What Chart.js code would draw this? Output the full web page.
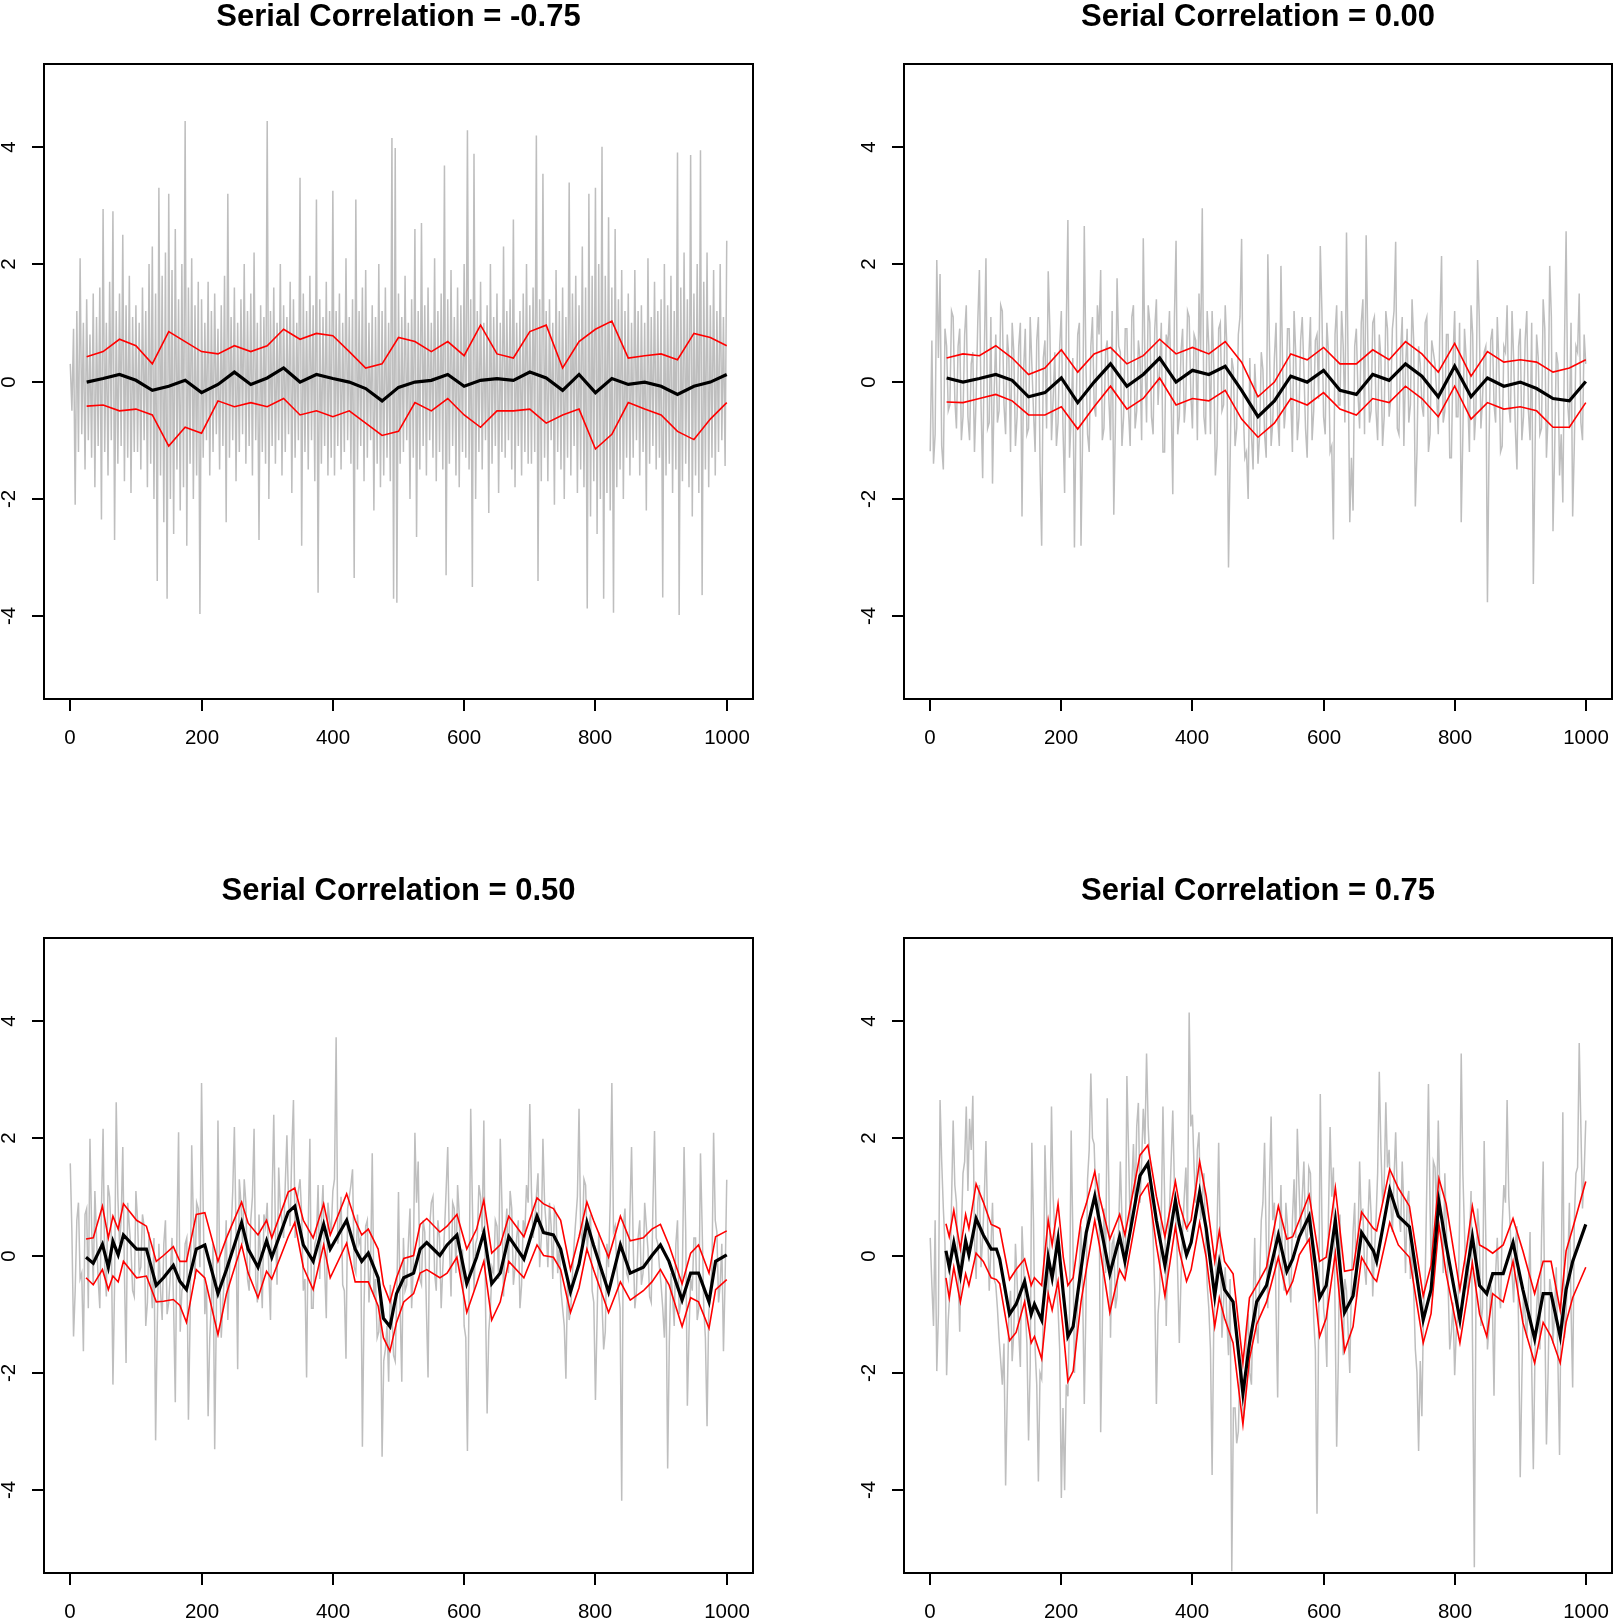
<!DOCTYPE html>
<html>
<head>
<meta charset="utf-8">
<script src="https://cdn.jsdelivr.net/npm/chart.js@4.4.1/dist/chart.umd.min.js"></script>
<style>
  body { margin: 0; background: #fff; }
  #page { position: relative; width: 1615px; height: 1622px; }
  canvas { position: absolute; }
</style>
</head>
<body>
<div id="page">
  <canvas id="c1" width="807" height="811" style="left:0;top:0"></canvas>
  <canvas id="c2" width="808" height="811" style="left:807px;top:0"></canvas>
  <canvas id="c3" width="807" height="811" style="left:0;top:811px"></canvas>
  <canvas id="c4" width="808" height="811" style="left:807px;top:811px"></canvas>
</div>
<script>
// ticks and titles
const xTicks = [0, 200, 400, 600, 800, 1000];
const yTicks = [-4, -2, 0, 2, 4];
const titles = ['Serial Correlation = -0.75', 'Serial Correlation = 0.00',
                'Serial Correlation = 0.50', 'Serial Correlation = 0.75'];

// raw series (gray). panel 1 read every 2.5 steps
const grayStep1 = 2.5;
const gray1 = [
  0.3,-0.5,0.9,-2.1,1.2,-1.2,2.1,-0.9,1.0,-1.5,1.4,-1.0,0.8,-1.3,1.5,-1.8,1.1,-1.1,1.6,-2.35,2.94,-1.2,1.0,-1.6,1.7,-1.0,2.9,-2.7,1.2,-1.4,1.5,-1.1,2.5,-1.7,1.3,-1.3,1.8,-1.9,1.1,-1.2,
  1.3,-1.2,1.0,-1.5,1.6,-1.0,1.2,-1.8,2.0,-1.4,2.3,-2.0,1.5,-3.4,3.3,-1.6,1.8,-2.4,2.2,-3.7,3.2,-2.0,1.9,-2.6,2.6,-1.5,1.4,-2.2,2.0,-1.8,4.44,-2.8,1.6,-1.4,2.1,-2.0,1.3,-1.6,1.7,-3.96,
  1.4,-1.3,1.0,-1.0,1.7,-1.6,1.2,-1.2,1.5,-0.9,0.9,-1.5,1.3,-1.1,1.8,-2.4,3.2,-1.3,1.1,-1.0,1.6,-1.7,1.0,-1.2,1.4,-0.9,2.0,-1.4,1.2,-1.1,1.5,-1.6,2.2,-1.0,1.0,-2.7,1.3,-1.2,1.1,-1.4,
  4.44,-2.0,1.2,-1.1,1.6,-1.4,1.0,-1.0,2.0,-1.6,1.3,-1.2,1.1,-0.9,1.7,-1.9,1.4,-1.3,1.0,-1.0,3.47,-2.8,1.5,-1.2,1.2,-1.5,1.8,-1.0,1.3,-1.7,3.1,-3.6,1.4,-1.4,1.1,-1.1,1.7,-1.6,1.2,-1.3,
  3.25,-1.6,1.2,-1.1,1.5,-1.5,1.0,-1.2,2.1,-1.0,1.1,-1.4,1.4,-3.35,3.1,-1.5,1.2,-1.1,1.6,-1.7,1.9,-1.3,1.0,-1.0,1.3,-2.2,1.1,-1.4,2.0,-1.8,1.2,-1.6,1.6,-1.3,1.0,-1.7,4.15,-3.7,3.98,-3.77,
  1.5,-1.4,1.1,-1.2,1.8,-1.0,1.0,-2.0,1.4,-1.3,2.6,-2.65,1.2,-1.5,2.7,-1.1,1.3,-1.6,1.6,-1.0,1.0,-1.3,2.1,-1.7,1.2,-1.2,1.5,-1.5,3.68,-3.3,1.4,-1.4,1.9,-1.1,1.1,-1.6,1.6,-1.8,1.3,-1.2,
  2.0,-1.3,4.28,-1.5,1.4,-3.5,3.88,-2.0,1.2,-1.2,1.7,-1.5,1.0,-1.0,1.3,-2.24,2.0,-1.4,1.1,-1.1,1.5,-1.9,1.0,-1.2,2.3,-1.3,1.2,-1.0,1.4,-1.5,2.76,-1.8,1.0,-1.1,1.2,-1.6,1.5,-1.2,2.0,-1.4,
  1.3,-1.4,1.6,-1.2,4.19,-3.4,1.4,-1.7,3.54,-1.3,1.2,-1.7,1.4,-1.0,1.0,-2.1,1.9,-1.2,1.2,-1.5,1.6,-2.0,1.1,-1.3,3.39,-1.6,1.5,-1.1,1.8,-1.9,1.3,-1.5,2.3,-1.8,1.6,-3.87,3.2,-2.3,1.8,-1.7,
  3.3,-2.6,2.0,-2.0,4.0,-3.7,1.8,-1.9,2.8,-2.2,1.6,-3.94,2.6,-1.8,1.4,-1.5,1.9,-2.0,1.2,-1.3,1.5,-1.6,1.0,-1.3,1.9,-1.0,1.2,-1.6,1.3,-1.2,1.0,-2.2,2.1,-1.4,1.1,-1.1,1.7,-1.5,1.2,-1.3,
  1.4,-3.68,2.0,-1.6,1.3,-1.4,1.8,-1.9,1.2,-1.5,3.9,-3.98,1.6,-1.7,2.2,-1.4,1.4,-1.8,3.86,-2.3,1.5,-1.6,2.0,-1.9,3.94,-3.64,1.7,-1.5,2.2,-1.8,1.3,-1.3,1.9,-1.6,1.2,-1.2,2.0,-1.0,1.1,-1.44,
  2.4
];

// panels 2-4: values at x = 0,5,...,1000 and in-between values at x = 2.5,7.5,...,997.5
const grayStep = 5;
const gray2 = [
  -1.19,-1.4,2.07,1.83,-1.5,0.6,-0.4,1.1,-0.8,0.9,-0.6,1.3,-1.0,0.5,-0.3,1.9,-1.65,2.1,-0.7,-1.74,
  0.8,-0.5,1.2,-0.9,0.4,1.0,-1.1,0.6,-2.3,0.9,-0.8,0.3,-1.2,1.1,-2.8,0.7,1.88,-1.0,0.5,-0.7,
  1.2,-1.9,2.75,-0.6,-2.83,0.8,-2.8,2.65,-0.9,0.6,-0.4,1.3,1.9,-0.8,0.7,-1.0,-2.27,1.76,0.5,-0.6,
  0.9,-1.1,1.3,-0.5,0.4,2.44,-0.7,1.0,-0.9,1.4,0.2,-1.2,0.8,1.2,-1.92,2.4,-0.6,0.9,-0.3,1.1,
  -0.8,0.7,1.5,2.95,-0.9,0.6,1.2,-1.6,0.9,-0.5,1.3,-3.17,0.4,-1.1,0.8,2.43,-1.3,-2.0,-0.9,0.3,
  -1.4,0.5,-0.9,2.17,-1.1,0.4,-0.6,1.97,-0.8,0.9,-0.3,1.2,-1.0,0.7,0.2,-1.3,1.1,-0.5,0.8,2.31,
  -0.6,1.0,-1.2,-2.69,1.3,-0.4,0.6,2.54,-2.4,-2.2,0.9,-0.8,1.4,2.49,-0.7,1.0,-0.5,0.8,-1.1,1.2,
  -0.6,0.9,2.38,-0.9,1.1,0.2,-0.7,1.4,-2.13,0.6,-0.4,1.0,-1.2,0.7,0.3,-0.9,2.14,-0.5,0.8,-1.3,
  1.2,-0.6,-2.4,0.9,-0.3,1.3,-1.0,2.07,-0.8,0.5,-3.76,0.7,-0.4,1.1,-1.2,0.6,1.3,-0.7,0.4,-1.5,
  0.9,-0.6,1.2,-1.0,-3.45,0.8,-0.9,1.4,-1.3,1.97,-2.55,0.5,-1.6,-2.06,2.56,-0.8,-2.3,0.6,1.5,-1.0,
  0.3
];
const gray2Mid = [
  0.7,-0.9,0.4,-1.1,0.9,-0.5,1.2,-0.3,0.6,-1.0,0.8,-0.6,0.3,-1.2,1.0,-0.4,0.5,-0.8,1.1,-0.2,
  -0.7,1.3,-0.4,0.8,-1.2,0.5,-0.6,1.0,0.2,-0.9,1.1,-0.5,0.7,-1.4,0.4,-0.8,0.9,-0.3,-1.1,0.6,
  -0.8,0.9,-1.3,0.4,-0.5,1.0,-0.9,0.3,-1.2,1.1,-0.6,0.8,-1.0,0.5,-0.3,1.2,-0.7,0.6,-1.1,0.9,
  -0.5,1.1,-0.8,0.7,-1.0,0.4,1.3,-0.6,0.9,-0.4,1.0,-1.2,0.6,-0.3,1.1,-0.9,0.5,-0.7,1.2,-0.2,
  0.8,-1.0,0.5,-0.6,1.2,-0.9,0.3,-1.1,1.0,-0.4,0.6,-1.3,0.2,-0.8,1.1,-0.5,-1.2,0.4,-1.5,-0.3,
  -0.9,0.2,-1.3,0.6,-0.7,1.0,-1.1,0.3,-0.4,0.9,-1.2,0.5,-0.6,1.1,-0.8,0.4,-1.0,0.7,-0.3,1.2,
  -0.9,0.5,-1.1,0.8,-0.4,1.2,-0.7,0.3,-1.3,0.6,-0.2,1.0,-0.9,0.7,-0.5,1.1,-1.0,0.4,-0.6,0.9,
  -0.3,1.2,-0.8,0.5,-1.1,0.9,-0.4,0.7,-1.2,0.3,-0.6,1.1,-0.9,0.5,-0.2,1.0,-0.7,0.8,-1.3,0.4,
  -0.6,1.0,-0.9,0.4,-1.2,0.8,-0.5,1.1,-0.3,0.6,-1.0,0.9,-0.7,0.3,-1.1,0.5,-0.4,1.2,-0.8,0.6,
  -1.0,0.7,-0.5,1.0,-1.3,0.4,-0.8,0.9,-0.6,1.1,-1.2,0.3,-0.9,0.6,-0.4,1.0,-1.1,0.5,-0.7,0.8
];
const gray3 = [
  1.57,-1.38,0.6,-0.4,-1.63,0.8,1.99,-0.5,0.3,-0.9,2.16,-0.7,1.0,-2.2,2.61,0.2,1.85,-1.83,0.5,-0.6,
  1.1,-0.3,0.7,-1.2,0.4,-0.9,-3.15,0.2,-1.1,0.6,-0.8,0.3,-2.5,2.1,-0.6,0.2,-2.8,1.88,-0.4,0.8,
  2.94,-1.0,-2.74,-0.8,-3.3,2.3,-1.4,-0.3,-1.1,0.4,2.19,-1.94,0.9,1.3,-0.4,0.6,2.16,-0.8,-0.2,0.7,
  0.9,-1.1,2.4,-0.5,0.8,0.3,2.05,0.5,2.65,0.9,1.3,-0.6,-2.08,1.99,-0.9,0.3,-0.4,1.2,-1.07,0.6,
  1.1,3.72,0.4,-0.5,-1.76,1.0,1.47,-0.3,0.2,-3.26,0.5,-0.8,1.74,-0.4,-1.3,-3.43,-1.6,-2.15,-1.0,-1.8,
  1.08,-2.15,-0.6,0.2,-0.9,2.09,1.6,-0.5,0.4,-2.08,0.9,-0.3,0.6,-0.9,0.4,1.85,-0.7,0.8,1.2,-0.4,
  -1.2,-3.33,2.5,-0.6,0.3,1.0,2.3,-2.69,-0.9,-0.3,0.5,1.99,-0.7,0.8,1.1,-0.5,0.3,-0.9,0.6,1.2,
  2.58,0.3,1.0,-0.2,1.99,0.5,0.9,-0.4,0.7,0.2,-0.9,-2.1,-1.1,-0.3,0.6,2.5,0.2,1.2,0.5,-0.6,
  -2.46,0.4,-0.8,-1.3,-0.2,2.94,0.5,-0.6,-4.18,0.8,-0.4,1.85,-0.9,0.3,-0.5,0.9,0.1,-0.8,2.12,0.2,
  -0.5,-1.4,-3.63,-0.3,-1.2,0.6,-0.8,1.85,-2.56,-0.4,0.3,-1.1,1.74,-0.9,-2.91,-0.6,2.09,0.4,-0.5,-1.63,
  1.29
];
const gray3Mid = [
  0.4,-0.6,0.9,-0.3,0.7,-0.9,0.5,1.1,-0.4,0.8,-0.2,1.2,0.3,-0.5,1.0,0.6,-0.3,0.9,0.1,-0.7,
  0.6,-0.2,0.5,-0.8,-0.4,0.3,-1.2,-0.6,0.2,-1.0,-0.3,-0.9,0.4,-1.3,-0.5,0.3,-1.1,0.6,0.9,-0.2,
  0.8,-0.5,-1.4,0.2,-1.0,-0.2,-0.8,0.6,-0.3,1.1,0.4,1.3,0.2,0.9,-0.6,1.0,-0.4,0.7,-0.9,0.5,
  -0.3,1.0,0.4,1.5,0.6,1.2,0.9,1.8,0.3,1.1,0.7,-0.4,0.5,-0.9,0.2,1.2,0.6,-0.2,0.9,0.4,
  1.3,0.2,1.0,-0.6,0.8,1.2,-0.2,0.7,0.3,-0.9,0.6,-0.2,-0.7,-1.4,-0.6,-1.8,-1.2,-0.5,-1.7,-0.6,
  -0.9,0.3,-0.5,0.8,-0.2,0.9,-0.4,0.6,-0.9,0.5,1.0,-0.6,0.3,-0.2,1.1,0.2,0.9,-0.3,0.7,0.1,
  -1.4,-0.6,0.9,0.2,1.2,0.4,-0.8,-1.3,-0.2,0.6,-0.4,0.9,0.3,-0.3,0.8,-0.2,0.6,-0.5,0.4,0.9,
  1.1,0.6,1.4,0.3,0.9,-0.2,0.5,0.8,-0.3,-0.6,-1.2,-0.4,-0.9,0.2,1.0,0.4,1.3,0.1,0.7,-0.8,
  -1.1,-0.3,-1.6,0.2,0.9,0.4,-0.2,-0.9,0.5,-0.3,0.7,0.2,-0.6,0.6,-0.3,0.5,-0.7,0.8,0.3,-0.2,
  -0.9,-0.4,-1.5,-0.7,0.2,-1.0,-0.2,0.4,-1.3,-0.6,0.3,-0.9,0.5,-1.4,-1.0,-0.2,0.6,-0.8,0.2,-0.4
];
const gray4 = [
  0.3,-1.2,-1.97,2.65,0.8,-2.04,-0.6,2.3,0.9,-1.3,1.4,2.54,2.33,2.72,-0.4,1.2,0.3,1.95,-0.6,0.9,
  -0.5,-1.4,-2.2,-3.92,-1.0,-1.8,0.2,-1.3,0.5,-0.9,-3.15,1.92,-1.6,-3.85,-2.1,1.88,-0.8,2.54,0.4,-0.9,
  -4.13,-4.0,-2.4,2.13,-2.0,-0.8,0.5,-2.53,1.3,3.1,1.9,0.6,-3.01,0.8,2.68,-1.4,0.3,-0.7,1.6,0.2,
  3.06,0.5,1.9,2.2,0.9,2.5,3.44,1.6,0.3,-2.53,-0.6,2.54,-1.2,0.8,2.47,0.6,-1.49,0.4,1.5,4.14,
  2.4,0.9,2.1,1.0,0.3,-0.9,-3.74,-0.6,1.92,-1.4,-0.2,-1.7,-5.38,-2.6,-3.0,-1.8,-2.53,-1.0,-2.2,0.3,
  -1.5,0.6,1.92,-0.9,2.37,0.9,-2.42,1.2,-0.6,0.5,-0.8,1.3,2.16,0.4,1.6,0.2,1.4,-1.1,-4.4,2.75,
  -0.9,-1.9,2.19,1.5,-3.26,0.7,-1.7,-0.6,-2.0,0.4,-0.7,1.6,0.8,-0.5,1.3,-0.7,0.6,3.13,0.9,2.61,
  1.8,0.4,2.1,0.7,1.6,-0.3,1.1,0.2,-1.6,-3.33,-2.74,-0.4,2.92,-0.7,1.5,2.3,0.6,1.4,-0.5,-1.3,
  -2.04,-1.0,3.44,0.4,-0.6,1.1,-5.31,0.8,-1.2,1.95,-1.6,-0.5,-2.39,0.3,-0.9,1.2,2.65,0.4,-0.8,0.5,
  -3.78,-0.6,-1.4,0.4,-3.64,-0.9,-1.6,1.6,-3.22,-0.4,-1.5,-0.2,-3.4,2.44,-1.0,0.9,-2.25,1.4,3.62,0.8,
  2.3
];
const gray4Mid = [
  -0.5,0.6,-1.0,1.6,0.2,-1.1,0.9,1.2,-0.3,0.4,1.6,1.1,1.8,0.3,0.9,-0.2,1.0,0.6,0.1,-0.4,
  -0.9,-1.8,-1.5,-2.4,-0.6,-1.3,-0.4,-1.9,-0.2,-1.5,-1.9,0.6,-2.2,-2.0,-1.0,0.8,0.3,1.0,-0.5,-1.6,
  -2.6,-2.2,-1.0,0.4,-1.4,-0.2,-0.6,-0.9,1.8,2.0,1.0,1.4,-1.2,-0.3,1.2,0.2,-0.9,0.5,0.6,-0.4,
  1.8,1.2,0.8,2.6,1.6,1.9,2.2,0.9,-0.6,-1.0,0.7,1.0,0.2,1.6,1.2,-0.3,-0.4,1.0,0.4,2.2,
  1.5,1.8,0.6,1.4,-0.5,-1.6,-1.2,0.4,0.2,-0.8,-1.1,-0.4,-2.6,-3.2,-1.9,-2.8,-1.4,-2.0,-0.8,-1.2,
  -0.4,0.9,0.3,1.2,0.6,-0.9,0.2,-0.3,0.9,-0.4,0.6,0.3,1.2,1.0,0.4,1.5,0.1,-1.6,-1.2,0.6,
  -1.2,0.7,1.0,-0.9,-1.8,-1.0,-0.4,-1.3,-0.5,0.9,0.2,0.6,-0.2,0.5,0.7,0.0,1.4,1.8,1.2,1.5,
  0.9,1.3,1.0,0.4,0.8,0.9,-0.4,-0.6,-2.0,-1.8,-0.9,1.2,0.8,1.6,0.7,1.0,-0.3,0.4,-1.6,-0.8,
  -1.3,0.6,1.4,-0.5,0.2,-1.8,-0.7,0.4,-0.9,0.3,-1.2,-0.8,-0.3,-0.6,0.5,0.9,1.0,-0.3,0.2,-1.2,
  -2.1,-1.0,-0.6,-1.9,-1.7,-0.4,0.3,-1.0,-2.0,-0.6,-0.9,-1.8,-0.5,-1.4,-0.2,-0.9,0.6,1.5,2.2,1.4
];

// moving average (black) and bands (red)
const bandX12 = [25,50,75,100,125,150,175,200,225,250,275,300,325,350,375,400,425,450,475,500,
                 525,550,575,600,625,650,675,700,725,750,775,800,825,850,875,900,925,950,975,1000];
const black1 = [-0.01,0.05,0.12,0.02,-0.15,-0.08,0.02,-0.19,-0.05,0.16,-0.05,0.06,0.23,-0.01,0.12,0.05,-0.01,-0.12,-0.33,-0.1,
                -0.01,0.02,0.12,-0.08,0.02,0.05,0.02,0.16,0.06,-0.15,0.12,-0.19,0.05,-0.05,-0.01,-0.08,-0.22,-0.08,-0.01,0.12];
const upper1 = [0.42,0.51,0.72,0.61,0.3,0.85,0.68,0.51,0.47,0.61,0.51,0.61,0.89,0.72,0.82,0.78,0.51,0.23,0.3,0.75,
                0.68,0.51,0.68,0.44,0.96,0.47,0.4,0.85,0.96,0.23,0.68,0.89,1.03,0.4,0.44,0.47,0.37,0.82,0.75,0.61];
const lower1 = [-0.42,-0.4,-0.5,-0.47,-0.57,-1.1,-0.78,-0.88,-0.33,-0.43,-0.36,-0.43,-0.29,-0.57,-0.5,-0.6,-0.5,-0.71,-0.92,-0.85,
                -0.36,-0.5,-0.29,-0.57,-0.78,-0.5,-0.5,-0.47,-0.71,-0.57,-0.47,-1.15,-0.9,-0.36,-0.47,-0.57,-0.85,-0.99,-0.64,-0.36];

const black2 = [0.06,-0.01,0.05,0.12,0.02,-0.26,-0.19,0.06,-0.36,-0.01,0.3,-0.08,0.12,0.4,-0.01,0.19,0.12,0.26,-0.15,-0.6,
                -0.33,0.09,-0.01,0.19,-0.15,-0.22,0.12,0.02,0.3,0.09,-0.26,0.26,-0.26,0.06,-0.08,-0.01,-0.12,-0.29,-0.33,0.0];
const upper2 = [0.4,0.47,0.44,0.61,0.4,0.12,0.23,0.54,0.16,0.47,0.58,0.3,0.44,0.72,0.47,0.58,0.47,0.68,0.33,-0.26,
                -0.01,0.47,0.37,0.58,0.3,0.3,0.54,0.37,0.68,0.47,0.16,0.65,0.09,0.51,0.33,0.37,0.33,0.16,0.23,0.37];
const lower2 = [-0.35,-0.36,-0.29,-0.22,-0.33,-0.57,-0.57,-0.43,-0.81,-0.43,-0.08,-0.47,-0.29,0.06,-0.4,-0.29,-0.33,-0.15,-0.64,-0.95,
                -0.71,-0.29,-0.4,-0.19,-0.47,-0.57,-0.29,-0.36,-0.08,-0.29,-0.6,-0.08,-0.64,-0.36,-0.47,-0.43,-0.5,-0.78,-0.78,-0.36];

const bandX3 = [24,35,49,58,65,73,81,101,116,131,142,157,167,177,192,205,225,238,261,271,
                286,299,307,332,342,355,370,386,396,421,434,444,454,469,477,487,497,508,523,533,
                543,563,574,589,604,619,630,642,655,668,691,711,721,736,747,762,775,787,797,820,
                838,853,873,886,899,912,932,945,957,973,983,1000];
const black3 = [-0.03,-0.13,0.19,-0.2,0.24,0.01,0.35,0.11,0.11,-0.51,-0.38,-0.17,-0.44,-0.58,0.11,0.18,-0.65,-0.24,0.56,0.11,
                -0.2,0.25,-0.03,0.74,0.84,0.18,-0.1,0.53,0.11,0.6,0.11,-0.1,0.04,-0.38,-1.07,-1.21,-0.65,-0.38,-0.3,0.11,
                0.22,0.0,0.18,0.35,-0.48,-0.03,0.39,-0.48,-0.3,0.32,-0.06,0.67,0.39,0.35,0.11,-0.62,-0.15,0.56,0.18,-0.62,
                0.18,-0.3,-0.2,0.0,0.18,-0.1,-0.76,-0.3,-0.3,-0.79,-0.1,0.01];
const upper3 = [0.28,0.3,0.84,0.3,0.67,0.45,0.88,0.6,0.5,-0.1,0.0,0.15,-0.1,-0.1,0.7,0.73,-0.1,0.3,0.91,0.55,
                0.35,0.6,0.3,1.08,1.15,0.6,0.3,0.88,0.35,1.05,0.6,0.35,0.45,0.11,-0.5,-0.79,-0.38,-0.05,0.0,0.53,
                0.63,0.4,0.5,0.7,0.11,0.45,0.94,0.04,0.18,0.67,0.32,0.98,0.88,0.8,0.6,-0.24,0.32,0.91,0.6,-0.03,
                0.67,0.25,0.3,0.45,0.53,0.18,-0.48,0.04,0.18,-0.3,0.32,0.42];
const lower3 = [-0.38,-0.5,-0.24,-0.58,-0.35,-0.45,-0.1,-0.38,-0.35,-0.79,-0.78,-0.75,-0.85,-1.14,-0.24,-0.38,-1.35,-0.65,0.18,-0.3,
                -0.72,-0.27,-0.4,0.32,0.56,-0.2,-0.58,0.18,-0.38,0.21,-0.45,-0.45,-0.45,-0.86,-1.4,-1.63,-1.14,-0.79,-0.65,-0.3,
                -0.24,-0.38,-0.3,-0.03,-0.97,-0.48,-0.1,-1.1,-0.79,-0.1,-0.38,0.18,0.0,-0.03,-0.24,-0.97,-0.55,0.11,-0.24,-0.97,
                -0.45,-0.76,-0.6,-0.45,-0.24,-0.5,-1.21,-0.72,-0.79,-1.24,-0.58,-0.41];

const bandX4 = [24,29,36,46,54,59,70,81,93,101,106,121,131,144,154,159,170,180,186,195,
                203,210,218,230,238,251,258,274,289,297,320,332,345,358,374,380,391,398,411,421,
                434,441,449,462,477,487,498,513,531,544,553,563,578,594,604,618,632,645,658,676,
                681,701,714,731,752,764,776,787,808,818,827,838,849,858,874,889,904,922,935,947,
                961,970,980,1000];
const black4 = [0.08,-0.2,0.22,-0.34,0.25,0.01,0.63,0.35,0.11,0.11,-0.06,-1.0,-0.83,-0.44,-1.0,-0.83,-1.1,-0.03,-0.38,0.28,
                -0.65,-1.38,-1.21,-0.24,0.39,1.01,0.6,-0.31,0.32,-0.1,1.36,1.57,0.6,-0.17,0.94,0.53,0.01,0.22,1.08,0.46,
                -0.69,-0.13,-0.58,-0.79,-2.35,-1.5,-0.79,-0.51,0.35,-0.27,-0.06,0.32,0.67,-0.72,-0.51,0.6,-0.97,-0.69,0.39,0.08,
                -0.1,1.12,0.67,0.49,-1.1,-0.58,0.91,0.18,-1.1,-0.31,0.32,-0.51,-0.65,-0.31,-0.31,0.22,-0.58,-1.42,-0.65,-0.65,
                -1.38,-0.58,-0.1,0.53];
const upper4 = [0.54,0.32,0.77,0.11,0.7,0.46,1.22,0.91,0.53,0.49,0.46,-0.41,-0.24,-0.06,-0.51,-0.38,-0.51,0.6,0.18,0.88,
                -0.03,-0.51,-0.38,0.6,0.88,1.43,1.01,0.28,0.7,0.35,1.71,1.88,1.01,0.32,1.26,0.88,0.46,0.6,1.6,1.01,
                -0.1,0.42,-0.1,-0.31,-1.83,-0.72,-0.51,-0.2,0.84,0.28,0.32,0.6,1.03,-0.1,-0.03,1.15,-0.27,-0.24,0.74,0.46,
                0.42,1.47,1.15,0.84,-0.69,-0.17,1.31,0.88,-0.58,0.11,0.84,0.18,0.11,0.04,0.18,0.63,0.08,-0.65,-0.1,-0.1,
                -0.93,0.08,0.46,1.26];
const lower4 = [-0.38,-0.72,-0.2,-0.79,-0.31,-0.51,0.04,-0.1,-0.38,-0.41,-0.48,-1.45,-1.31,-0.79,-1.49,-1.38,-1.76,-0.65,-0.93,-0.44,
                -1.28,-2.15,-1.97,-0.79,-0.24,0.6,0.18,-0.97,-0.24,-0.41,1.01,1.22,0.18,-0.69,0.49,0.08,-0.44,-0.24,0.56,-0.03,
                -1.21,-0.72,-1.07,-1.49,-2.88,-1.76,-1.17,-0.79,-0.03,-0.65,-0.44,0.01,0.28,-1.38,-1.07,0.04,-1.63,-1.21,-0.03,-0.38,
                -0.44,0.56,0.18,-0.03,-1.49,-0.99,0.53,-0.31,-1.49,-0.79,-0.13,-1.0,-1.38,-0.65,-0.79,-0.1,-1.14,-1.83,-1.14,-1.38,
                -1.83,-1.14,-0.72,-0.2];

const FONT = '"Liberation Sans", Arial, Helvetica, sans-serif';

// R style frame, ticks, labels and title
const rFrame = {
  id: 'rFrame',
  afterDraw(chart, args, opts) {
    const ctx = chart.ctx;
    const a = chart.chartArea;
    const xs = chart.scales.x, ys = chart.scales.y;
    ctx.save();
    ctx.strokeStyle = '#000';
    ctx.fillStyle = '#000';
    ctx.lineWidth = 2;
    ctx.strokeRect(a.left, a.top, a.right - a.left, a.bottom - a.top);
    ctx.font = '20.5px ' + FONT;
    ctx.textAlign = 'center';
    ctx.textBaseline = 'alphabetic';
    xTicks.forEach(v => {
      const px = Math.round(xs.getPixelForValue(v));
      ctx.beginPath(); ctx.moveTo(px, a.bottom); ctx.lineTo(px, a.bottom + 12); ctx.stroke();
      ctx.fillText(String(v), px, a.bottom + 45);
    });
    yTicks.forEach(v => {
      const py = Math.round(ys.getPixelForValue(v));
      ctx.beginPath(); ctx.moveTo(a.left, py); ctx.lineTo(a.left - 12, py); ctx.stroke();
      ctx.save();
      ctx.translate(a.left - 29, py);
      ctx.rotate(-Math.PI / 2);
      ctx.fillText(String(v), 0, 0);
      ctx.restore();
    });
    ctx.font = 'bold 31px ' + FONT;
    ctx.fillText(opts.text, (a.left + a.right) / 2, a.top - 38.5);
    ctx.restore();
  }
};

function pts(xs, ys) {
  return ys.map((v, i) => ({ x: xs[i], y: v }));
}
// gray points: main values every `step`, optional mid values half a step later
function grayPts(main, step, mid) {
  const out = [];
  main.forEach((v, i) => {
    out.push({ x: i * step, y: v });
    if (mid && i < mid.length) out.push({ x: i * step + step / 2, y: mid[i] });
  });
  return out;
}

// chart.js paints dataset 0 last, so the black line goes first
function drawPanel(id, title, grayData, bx, black, upper, lower, pad) {
  new Chart(document.getElementById(id), {
    type: 'line',
    data: {
      datasets: [
        { data: pts(bx, black), borderColor: '#000000', borderWidth: 3.2 },
        { data: pts(bx, upper), borderColor: '#ff0000', borderWidth: 1.6 },
        { data: pts(bx, lower), borderColor: '#ff0000', borderWidth: 1.6 },
        { data: grayData, borderColor: '#bebebe', borderWidth: 1.5 }
      ]
    },
    options: {
      responsive: false,
      animation: false,
      devicePixelRatio: 1,
      layout: { padding: pad },
      elements: { point: { radius: 0 }, line: { tension: 0, fill: false } },
      scales: {
        x: { type: 'linear', min: -40, max: 1040, display: false },
        y: { type: 'linear', min: -5.41, max: 5.41, display: false }
      },
      plugins: {
        legend: { display: false },
        tooltip: { enabled: false },
        rFrame: { text: title }
      }
    },
    plugins: [rFrame]
  });
}

drawPanel('c1', titles[0], grayPts(gray1, grayStep1), bandX12, black1, upper1, lower1, { left: 44, right: 54, top: 64, bottom: 112 });
drawPanel('c2', titles[1], grayPts(gray2, grayStep, gray2Mid), bandX12, black2, upper2, lower2, { left: 97, right: 3, top: 64, bottom: 112 });
drawPanel('c3', titles[2], grayPts(gray3, grayStep, gray3Mid), bandX3, black3, upper3, lower3, { left: 44, right: 54, top: 127, bottom: 49 });
drawPanel('c4', titles[3], grayPts(gray4, grayStep, gray4Mid), bandX4, black4, upper4, lower4, { left: 97, right: 3, top: 127, bottom: 49 });
</script>
</body>
</html>
